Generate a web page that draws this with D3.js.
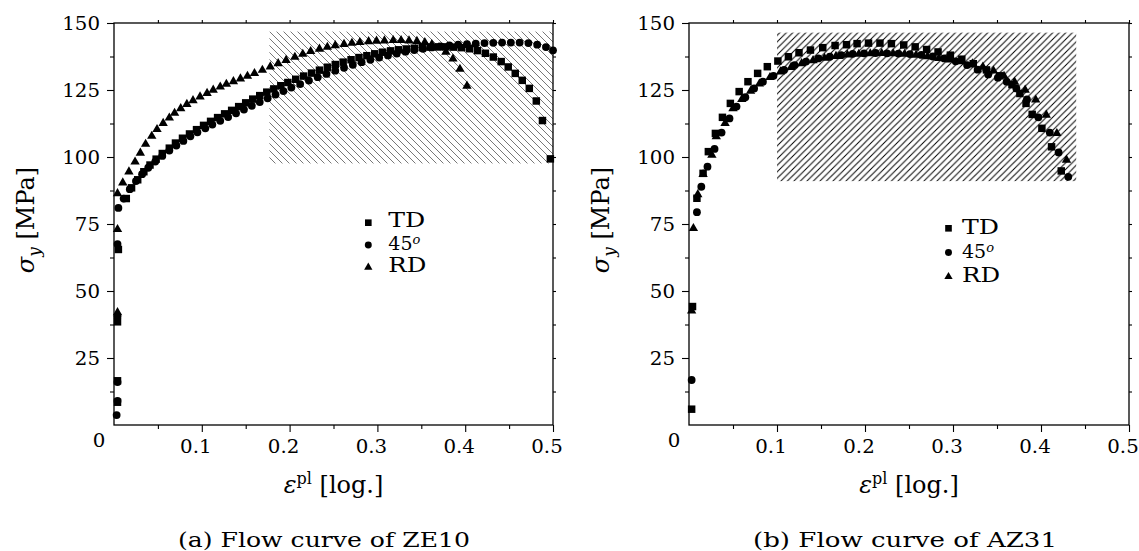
<!DOCTYPE html>
<html><head><meta charset="utf-8">
<script src="https://cdn.jsdelivr.net/npm/d3@7"></script>
<style>
body{margin:0;background:#fff;}
svg{display:block;}
text{font-family:"DejaVu Serif",serif;fill:#000;}
</style>
</head><body>
<svg id="c" width="1139" height="551"></svg>
<script>
// ---------------- data ----------------
const xTicks = [0.1, 0.2, 0.3, 0.4, 0.5];
const xTickLabels = ["0.1", "0.2", "0.3", "0.4", "0.5"];
const yTicks = [25, 50, 75, 100, 125, 150];
const yTickLabels = ["25", "50", "75", "100", "125", "150"];
const seriesNames = ["TD", "45", "RD"];
const captions = ["(a) Flow curve of ZE10", "(b) Flow curve of AZ31"];

// ZE10
const ze10_TD_strain = [0.004,0.004,0.004,0.005,0.014,0.020,0.027,0.034,0.041,0.048,0.055,0.063,0.070,0.078,0.086,0.094,0.102,0.110,0.118,0.126,0.134,0.142,0.150,0.158,0.166,0.174,0.182,0.190,0.198,0.207,0.216,0.225,0.234,0.243,0.252,0.261,0.270,0.279,0.288,0.297,0.306,0.315,0.324,0.333,0.342,0.351,0.360,0.369,0.378,0.387,0.396,0.405,0.414,0.423,0.432,0.441,0.449,0.457,0.465,0.473,0.481,0.488,0.497];
const ze10_TD_stress = [8.5,16.5,38.5,65.5,84.5,88.5,91.5,94.5,97,99.2,101.3,103.3,105.2,107,108.6,110.2,111.8,113.3,114.7,116.1,117.4,118.8,120.2,121.6,122.9,124.2,125.4,126.6,127.8,129,130.2,131.3,132.4,133.5,134.5,135.4,136.3,137.1,137.8,138.5,139.1,139.6,140,140.3,140.6,140.8,141,141.1,141.1,141,140.8,140.4,139.7,138.7,137.3,135.6,133.6,131.2,128.6,125.6,120.9,113.6,99.3];
const ze10_45_strain = [0.003,0.004,0.004,0.004,0.004,0.005,0.011,0.018,0.025,0.032,0.039,0.047,0.055,0.063,0.071,0.079,0.087,0.095,0.104,0.112,0.121,0.130,0.139,0.148,0.157,0.166,0.175,0.184,0.193,0.202,0.212,0.222,0.232,0.242,0.252,0.262,0.272,0.282,0.292,0.302,0.312,0.322,0.332,0.342,0.352,0.362,0.372,0.382,0.392,0.402,0.412,0.422,0.432,0.442,0.452,0.462,0.472,0.482,0.492,0.500];
const ze10_45_stress = [3.7,9,16,40.5,67.5,81,84.5,88,91,93.6,96,98.3,100.4,102.4,104.3,106,107.7,109.2,110.7,112.1,113.5,114.9,116.3,117.7,119.1,120.5,121.9,123.3,124.6,125.9,127.2,128.5,129.8,131,132.2,133.3,134.4,135.4,136.3,137.1,137.9,138.6,139.3,139.9,140.4,140.9,141.3,141.6,141.9,142.1,142.3,142.5,142.6,142.7,142.7,142.7,142.5,141.9,141,139.8];
const ze10_RD_strain = [0.004,0.004,0.004,0.010,0.017,0.024,0.030,0.036,0.043,0.049,0.056,0.063,0.069,0.076,0.083,0.090,0.098,0.106,0.113,0.121,0.128,0.136,0.144,0.152,0.160,0.169,0.178,0.187,0.196,0.206,0.215,0.224,0.234,0.243,0.252,0.262,0.271,0.280,0.290,0.299,0.308,0.318,0.327,0.336,0.345,0.354,0.362,0.370,0.378,0.386,0.394,0.402];
const ze10_RD_stress = [42,73,86.4,90.4,94.5,98.2,101.5,104.8,107.8,110.3,112.6,114.6,116.4,118.1,119.7,121.1,122.5,123.8,125,126.2,127.2,128.2,129.2,130.2,131.2,132.4,133.7,134.9,136.1,137.3,138.4,139.4,140.3,141,141.6,142.1,142.5,142.8,143.1,143.3,143.4,143.5,143.5,143.4,143.2,142.8,142,140.8,139.2,136.6,132.8,126.5];
const ze10_hatch = {strain: [0.177, 0.5], stress: [97.6, 146.8]};

// AZ31
const az31_TD_strain = [0.003,0.004,0.009,0.016,0.022,0.030,0.038,0.047,0.057,0.067,0.078,0.089,0.101,0.113,0.125,0.138,0.152,0.166,0.179,0.191,0.204,0.217,0.230,0.244,0.257,0.270,0.283,0.297,0.310,0.323,0.338,0.353,0.367,0.376,0.383,0.390,0.401,0.412,0.423];
const az31_TD_stress = [5.9,44.2,84.6,93.9,102,108.8,114.8,120,124.4,128.1,131.2,133.7,135.8,137.4,138.9,139.9,140.8,141.6,141.9,142.3,142.5,142.5,142.3,141.8,141.1,140.1,139.2,138,136.5,134.8,132.5,130.3,127,123.7,120,115.9,110.7,103.8,94.8];
const az31_45_strain = [0.003,0.009,0.014,0.021,0.029,0.037,0.046,0.054,0.064,0.074,0.084,0.096,0.108,0.120,0.133,0.147,0.160,0.173,0.186,0.199,0.212,0.225,0.238,0.251,0.264,0.277,0.290,0.303,0.316,0.328,0.340,0.351,0.361,0.372,0.384,0.397,0.410,0.420,0.431];
const az31_45_stress = [16.8,79.4,88.9,96.4,103,109.1,114.4,118.8,122.3,125.6,128.1,130.3,132.5,134.3,135.6,136.8,137.4,138,138.5,138.7,138.8,138.7,138.6,138.4,138.1,137.5,136.8,135.7,134.3,132.6,130.8,129.6,128.1,125.6,121.5,114.8,109.1,101.7,92.6];
const az31_RD_strain = [0.003,0.005,0.010,0.016,0.026,0.031,0.041,0.050,0.060,0.070,0.080,0.092,0.104,0.116,0.128,0.141,0.154,0.167,0.180,0.193,0.206,0.219,0.232,0.245,0.258,0.271,0.284,0.297,0.310,0.322,0.334,0.346,0.358,0.370,0.382,0.394,0.406,0.418,0.429];
const az31_RD_stress = [42.6,73.4,86,93.5,100.7,107.6,112.6,118.1,121.5,124.6,127.3,129.7,131.8,133.5,134.9,136,136.9,137.6,138.1,138.4,138.6,138.7,138.6,138.4,138,137.5,136.8,136.3,135.6,134.8,133.6,132.2,130.2,128,125,121.3,115.7,108.8,98.9];
const az31_hatch = {strain: [0.1, 0.44], stress: [91, 146.4]};

// ---------------- layout ----------------
const panels = [
  {left:114, right:553, top:23, bottom:425,
   series:[[ze10_TD_strain, ze10_TD_stress],[ze10_45_strain, ze10_45_stress],[ze10_RD_strain, ze10_RD_stress]],
   hatch: ze10_hatch, hatchDir: "back", hatchColor:"#555", hatchWidth:0.8, hatchStep:7,
   legend:{x:368.3, y:222.7, dy:22.3, tx:20, tdy:4.5},
   caption: captions[0], capX: 324, capLen: 292},
  {left:689, right:1129, top:23, bottom:425,
   series:[[az31_TD_strain, az31_TD_stress],[az31_45_strain, az31_45_stress],[az31_RD_strain, az31_RD_stress]],
   hatch: az31_hatch, hatchDir: "fwd", hatchColor:"#000", hatchWidth:1.0, hatchStep:6.5,
   legend:{x:948.5, y:228.3, dy:24.2, tx:13.5, tdy:5.5},
   caption: captions[1], capX: 905, capLen: 304}
];

const svg = d3.select("#c");
const defs = svg.append("defs");
const symTypes = [d3.symbolSquare, d3.symbolCircle, d3.symbolTriangle];
const symSizes = [56, 48, 38];
const legSizes = [44, 38, 30];

function addText(parent, x, y, parts, o) {
  o = o || {};
  const g = parent.append("g").attr("transform",
    `translate(${x},${y}) rotate(${o.rotate||0}) scale(${o.sx||1},1)`);
  const t = g.append("text").attr("font-size", o.size || 18)
    .attr("text-anchor", o.anchor || "middle");
  if (o.len) t.attr("textLength", o.len).attr("lengthAdjust", "spacingAndGlyphs");
  parts.forEach(p => {
    const ts = t.append("tspan").text(p.t);
    if (p.i) ts.attr("font-style", "italic");
    if (p.dy) ts.attr("dy", p.dy);
    if (p.s) ts.attr("font-size", p.s);
  });
  return t;
}

panels.forEach((P, pi) => {
  const x = d3.scaleLinear().domain([0, 0.5]).range([P.left, P.right]);
  const y = d3.scaleLinear().domain([0, 150]).range([P.bottom, P.top]);
  const g = svg.append("g");

  // hatch pattern
  const pid = "hatch" + pi, s = P.hatchStep;
  const pat = defs.append("pattern").attr("id", pid).attr("patternUnits", "userSpaceOnUse")
    .attr("width", s).attr("height", s);
  const lines = P.hatchDir === "back"
    ? [[0,0,s,s],[-1,s-1,1,s+1],[s-1,-1,s+1,1]]
    : [[0,s,s,0],[-1,1,1,-1],[s-1,s+1,s+1,s-1]];
  lines.forEach(l => pat.append("line").attr("x1",l[0]).attr("y1",l[1]).attr("x2",l[2]).attr("y2",l[3])
    .attr("stroke", P.hatchColor).attr("stroke-width", P.hatchWidth));
  g.append("rect")
    .attr("x", x(P.hatch.strain[0])).attr("y", y(P.hatch.stress[1]))
    .attr("width", x(P.hatch.strain[1]) - x(P.hatch.strain[0]))
    .attr("height", y(P.hatch.stress[0]) - y(P.hatch.stress[1]))
    .attr("fill", `url(#${pid})`);

  // axes
  const minorX = d3.range(0.05, 0.5001, 0.05);
  const minorY = d3.range(12.5, 150.001, 12.5);
  g.append("g").attr("transform", `translate(0,${P.bottom})`)
    .call(d3.axisBottom(x).tickValues(minorX.filter((d,i)=>i%2===0)).tickSize(4).tickFormat(""))
    .call(a => a.select(".domain").remove());
  g.append("g").attr("transform", `translate(0,${P.bottom})`)
    .call(d3.axisBottom(x).tickValues(xTicks).tickSize(7).tickFormat(""))
    .call(a => a.select(".domain").remove());
  g.append("g").attr("transform", `translate(${P.left},0)`)
    .call(d3.axisLeft(y).tickValues(minorY.filter((d,i)=>i%2===0)).tickSize(4).tickFormat(""))
    .call(a => a.select(".domain").remove());
  g.append("g").attr("transform", `translate(${P.left},0)`)
    .call(d3.axisLeft(y).tickValues(yTicks).tickSize(7).tickFormat(""))
    .call(a => a.select(".domain").remove());
  g.append("g").attr("transform", `translate(0,${P.top})`)
    .call(d3.axisTop(x).tickValues(minorX).tickSize(3).tickFormat(""))
    .call(a => a.select(".domain").remove());
  g.append("g").attr("transform", `translate(${P.right},0)`)
    .call(d3.axisRight(y).tickValues(minorY).tickSize(3).tickFormat(""))
    .call(a => a.select(".domain").remove());
  g.selectAll(".tick line").attr("stroke", "#000").attr("stroke-width", 1.1);
  g.append("rect").attr("x", P.left).attr("y", P.top)
    .attr("width", P.right - P.left).attr("height", P.bottom - P.top)
    .attr("fill", "none").attr("stroke", "#000").attr("stroke-width", 1.3);

  // tick labels
  yTicks.forEach((v, i) => addText(g, P.left - 14, y(v) + 6.5, [{t: yTickLabels[i]}], {size:18, anchor:"end", sx:1.1}));
  xTicks.forEach((v, i) => addText(g, x(v) - 6, P.bottom + 28, [{t: xTickLabels[i]}], {size:18, sx:1.1}));
  addText(g, P.left - 15, P.bottom + 22, [{t: "0"}], {size:18, sx:1.1});

  // axis titles
  addText(g, (P.left + P.right) / 2, P.bottom + 68,
    [{t:"ε", i:1}, {t:"pl", dy:-9, s:16}, {t:" [log.]", dy:9}], {size:24});
  addText(g, P.left - 80, (P.top + P.bottom) / 2 - 4,
    [{t:"σ", i:1}, {t:"y", i:1, dy:6, s:17}, {t:" [MPa]", dy:-6}], {size:24, rotate:-90});

  // caption
  addText(g, P.capX, 547, [{t: P.caption}], {size:20.5, len:P.capLen});

  // markers
  P.series.forEach((sr, si) => {
    const pts = sr[0].map((d, k) => [d, sr[1][k]]);
    g.append("g").selectAll("path").data(pts).join("path")
      .attr("transform", d => `translate(${x(d[0])},${y(d[1])})`)
      .attr("d", d3.symbol().type(symTypes[si]).size(symSizes[si]))
      .attr("fill", "#000");
  });

  // legend
  const L = P.legend;
  seriesNames.forEach((nm, si) => {
    const ly = L.y + si * L.dy;
    g.append("path").attr("transform", `translate(${L.x},${ly})`)
      .attr("d", d3.symbol().type(symTypes[si]).size(legSizes[si])).attr("fill", "#000");
    if (nm === "45") {
      addText(g, L.x + L.tx, ly + L.tdy, [{t:"45"}, {t:"o", i:1, dy:-6, s:13}], {size:19, anchor:"start"});
    } else {
      addText(g, L.x + L.tx, ly + L.tdy, [{t:nm}], {size:20, anchor:"start", len: nm === "TD" ? 37 : 38});
    }
  });
});
</script>
</body></html>
